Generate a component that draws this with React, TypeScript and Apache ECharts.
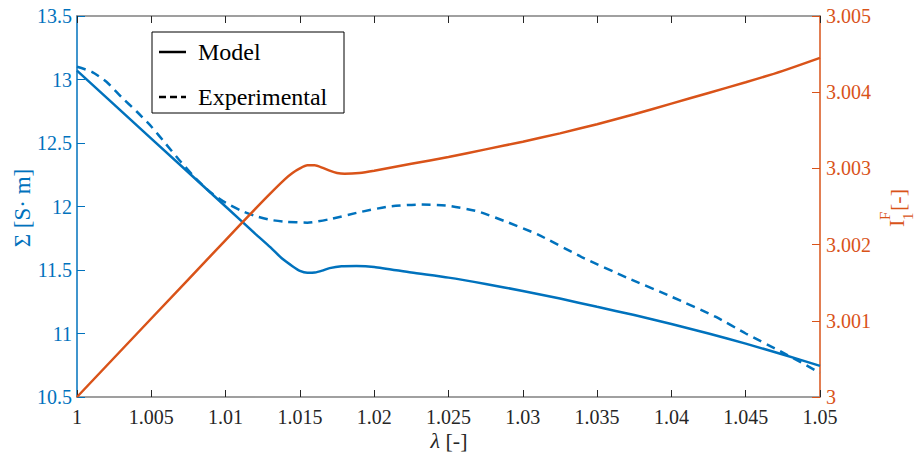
import React, { useEffect, useRef } from "react";
import * as echarts from "echarts";

// λ values and Σ for the model (solid blue)
const lambdaModel = [1, 1.005, 1.01, 1.012, 1.013, 1.0138, 1.0145, 1.015, 1.0155, 1.016, 1.0165, 1.017, 1.0178, 1.0188, 1.02, 1.0225, 1.025, 1.0275, 1.03, 1.0325, 1.035, 1.0375, 1.04, 1.0425, 1.045, 1.0475, 1.05];
const sigmaModel = [13.07, 12.535, 12.0, 11.785, 11.68, 11.59, 11.53, 11.493, 11.478, 11.48, 11.495, 11.515, 11.53, 11.532, 11.524, 11.48, 11.44, 11.39, 11.335, 11.275, 11.21, 11.145, 11.075, 11.0, 10.92, 10.835, 10.745];

// λ values and Σ for the experiment (dashed blue)
const lambdaExp = [1, 1.001, 1.002, 1.003, 1.004, 1.005, 1.006, 1.007, 1.008, 1.009, 1.01, 1.011, 1.012, 1.013, 1.014, 1.0155, 1.017, 1.019, 1.021, 1.023, 1.025, 1.027, 1.029, 1.031, 1.034, 1.037, 1.04, 1.043, 1.045, 1.0475, 1.05];
const sigmaExp = [13.1, 13.06, 12.98, 12.86, 12.75, 12.63, 12.49, 12.35, 12.22, 12.11, 12.03, 11.97, 11.925, 11.895, 11.88, 11.873, 11.9, 11.955, 12.0, 12.015, 12.005, 11.96, 11.875, 11.78, 11.6, 11.44, 11.29, 11.13, 11.0, 10.85, 10.69];

// λ values and I1F (orange, right axis)
const lambdaIF = [1, 1.005, 1.01, 1.012, 1.013, 1.014, 1.0145, 1.015, 1.0155, 1.016, 1.0165, 1.017, 1.0175, 1.018, 1.019, 1.02, 1.0225, 1.025, 1.0275, 1.03, 1.0325, 1.035, 1.0375, 1.04, 1.0425, 1.045, 1.0475, 1.05];
const valuesIF = [3.0, 3.00103, 3.00206, 3.00247, 3.00267, 3.00286, 3.00294, 3.003, 3.00304, 3.00304, 3.00301, 3.00297, 3.00294, 3.00293, 3.00294, 3.00297, 3.00306, 3.00315, 3.00325, 3.00335, 3.00346, 3.00358, 3.00371, 3.00385, 3.00399, 3.00413, 3.00428, 3.00445];

const legendLabels = ["Model", "Experimental"];

const BLUE = "#0072BD";
const ORANGE = "#D95319";
const DARK = "#262626";
const FONT = "Liberation Serif";

const fmt = (v: number) => String(parseFloat(v.toFixed(4)));

export default function App() {
  const ref = useRef<HTMLDivElement>(null);
  useEffect(() => {
    if (!ref.current) return;
    const chart = echarts.init(ref.current, undefined, { renderer: "svg" });
    const L = 77, R = 820, T = 16, B = 397;
    const option: any = {
      animation: false,
      backgroundColor: "#ffffff",
      textStyle: { fontFamily: FONT },
      grid: { left: L, right: 916 - R, top: T, bottom: 455 - B, containLabel: false },
      xAxis: [
        {
          type: "value", min: 1, max: 1.05, interval: 0.005, position: "bottom",
          axisLine: { show: true, lineStyle: { color: "#808080", width: 1.5 } },
          axisTick: { show: true, inside: true, length: 7, lineStyle: { color: DARK, width: 1 } },
          axisLabel: { color: DARK, fontFamily: FONT, fontSize: 20, margin: 10, formatter: fmt },
          splitLine: { show: false },
        },
        {
          type: "value", min: 1, max: 1.05, interval: 0.005, position: "top",
          axisLine: { show: true, lineStyle: { color: "#808080", width: 1.5 } },
          axisTick: { show: true, inside: true, length: 7, lineStyle: { color: DARK, width: 1 } },
          axisLabel: { show: false },
          splitLine: { show: false },
        },
      ],
      yAxis: [
        {
          type: "value", min: 10.5, max: 13.5, interval: 0.5, position: "left",
          axisLine: { show: true, lineStyle: { color: BLUE, width: 1.5 } },
          axisTick: { show: true, inside: true, length: 8, lineStyle: { color: BLUE, width: 1 } },
          axisLabel: { color: BLUE, fontFamily: FONT, fontSize: 20, margin: 5, formatter: fmt },
          splitLine: { show: false },
        },
        {
          type: "value", min: 3, max: 3.005, interval: 0.001, position: "right",
          axisLine: { show: true, lineStyle: { color: ORANGE, width: 1.5 } },
          axisTick: { show: true, inside: true, length: 8, lineStyle: { color: ORANGE, width: 1 } },
          axisLabel: { color: ORANGE, fontFamily: FONT, fontSize: 20, margin: 6, formatter: fmt },
          splitLine: { show: false },
        },
      ],
      series: [
        {
          type: "line", name: legendLabels[0], xAxisIndex: 0, yAxisIndex: 0, showSymbol: false, smooth: 0.2,
          data: lambdaModel.map((x, i) => [x, sigmaModel[i]]),
          lineStyle: { color: BLUE, width: 2.5 }, itemStyle: { color: BLUE },
        },
        {
          type: "line", name: legendLabels[1], xAxisIndex: 0, yAxisIndex: 0, showSymbol: false, smooth: 0.2,
          data: lambdaExp.map((x, i) => [x, sigmaExp[i]]),
          lineStyle: { color: BLUE, width: 2.5, type: [9, 6] }, itemStyle: { color: BLUE },
        },
        {
          type: "line", name: "I1F", xAxisIndex: 0, yAxisIndex: 1, showSymbol: false, smooth: 0.2,
          data: lambdaIF.map((x, i) => [x, valuesIF[i]]),
          lineStyle: { color: ORANGE, width: 2.5 }, itemStyle: { color: ORANGE },
        },
      ],
      graphic: [
        // legend box
        { type: "rect", shape: { x: 152, y: 32, width: 192, height: 81 }, style: { fill: "#ffffff", stroke: "#000000", lineWidth: 1 }, z: 100 },
        { type: "line", shape: { x1: 159, y1: 52, x2: 186, y2: 52 }, style: { stroke: "#000000", lineWidth: 2.5 }, z: 101 },
        { type: "line", shape: { x1: 159, y1: 97, x2: 186, y2: 97 }, style: { stroke: "#000000", lineWidth: 2.5, lineDash: [7, 4] }, z: 101 },
        { type: "text", x: 198, y: 52, style: { text: legendLabels[0], fill: "#000000", fontFamily: FONT, fontSize: 24, verticalAlign: "middle", align: "left" }, z: 101 },
        { type: "text", x: 198, y: 97, style: { text: legendLabels[1], fill: "#000000", fontFamily: FONT, fontSize: 24, verticalAlign: "middle", align: "left" }, z: 101 },
        // x-axis title
        {
          type: "text", x: 449, y: 440,
          style: {
            text: "{i|λ} [-]", align: "center", verticalAlign: "middle", fill: DARK, fontFamily: FONT, fontSize: 22,
            rich: { i: { fontStyle: "italic", fontFamily: FONT, fontSize: 22, fill: DARK } },
          },
        },
        // left y title
        {
          type: "text", x: 22, y: 208, rotation: Math.PI / 2,
          style: { text: "Σ [S· m]", align: "center", verticalAlign: "middle", fill: BLUE, fontFamily: FONT, fontSize: 23 },
        },
        // right y title
        {
          type: "group", x: 896, y: 207, rotation: Math.PI / 2,
          children: [
            { type: "text", x: -20, y: 0, style: { text: "I", align: "left", verticalAlign: "middle", fill: ORANGE, fontFamily: FONT, fontSize: 22 } },
            { type: "text", x: -13, y: -11, style: { text: "F", align: "left", verticalAlign: "middle", fill: ORANGE, fontFamily: FONT, fontSize: 15 } },
            { type: "text", x: -13, y: 12, style: { text: "1", align: "left", verticalAlign: "middle", fill: ORANGE, fontFamily: FONT, fontSize: 15 } },
            { type: "text", x: -4, y: 1, style: { text: "[-]", align: "left", verticalAlign: "middle", fill: ORANGE, fontFamily: FONT, fontSize: 22 } },
          ],
        },
      ],
    };
    chart.setOption(option);
    return () => chart.dispose();
  }, []);
  return <div ref={ref} style={{ position: "absolute", left: 0, top: 0, width: 916, height: 455 }} />;
}
